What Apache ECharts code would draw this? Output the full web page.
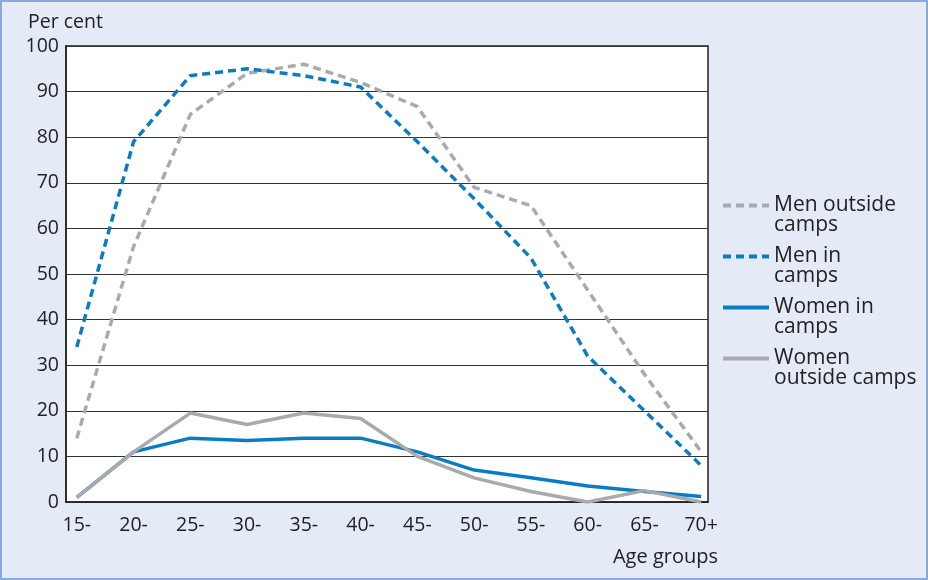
<!DOCTYPE html>
<html><head><meta charset="utf-8">
<script src="https://cdn.jsdelivr.net/npm/echarts@6/dist/echarts.min.js"></script>
<style>
html,body{margin:0;padding:0;background:#fff;}
#c{width:924px;height:576px;margin:0;border:2px solid #88aadb;background:#e4eaf6;}
</style></head><body>
<div id="c"></div>
<script>
var categories = ['15-','20-','25-','30-','35-','40-','45-','50-','55-','60-','65-','70+'];
var menOutside   = [14, 56, 85, 94, 96, 92, 86.7, 69, 65, 46.5, 28, 11];
var menIn        = [34, 79, 93.5, 95, 93.5, 91, 79, 66.5, 53.5, 32, 20, 8];
var womenIn      = [1, 11, 14, 13.5, 14, 14, 11, 7, 5.3, 3.5, 2.3, 1.2];
var womenOutside = [1, 11, 19.5, 17, 19.5, 18.3, 10, 5.3, 2.3, 0, 2.5, 0];
var yTicks = [0,10,20,30,40,50,60,70,80,90,100];

function pairs(arr){ return arr.map(function(v,i){ return [i, v]; }); }
var BLUE = '#0a7dc2', GREY = '#a9aaae';
var FONT = 'Open Sans';
var FS = 19.5;
var chart = echarts.init(document.getElementById('c'));
chart.setOption({
  animation:false,
  textStyle:{fontFamily:FONT},
  grid:{left:64,top:44,width:642,height:456,show:true,backgroundColor:'#fff',borderColor:'#222',borderWidth:1.5},
  title:{text:'Per cent',left:21,top:5,textStyle:{fontFamily:FONT,fontSize:FS,fontWeight:'normal',color:'#222'}},
  xAxis:{type:'value',min:-0.19,max:11.12,
    name:'Age groups',nameLocation:'end',nameGap:0,
    nameTextStyle:{fontFamily:FONT,fontSize:20,color:'#222',align:'right',verticalAlign:'top',padding:[45,-10,0,0]},
    axisLine:{show:true,lineStyle:{color:'#222',width:1.5}},
    axisTick:{show:false},splitLine:{show:false},
    axisLabel:{customValues:categories.map(function(c,i){return i;}),
      formatter:function(v){return categories[Math.round(v)];},
      fontFamily:FONT,fontSize:FS,color:'#222',margin:13}},
  yAxis:{type:'value',min:0,max:100,interval:10,
    axisLine:{show:true,onZero:false,lineStyle:{color:'#222',width:1.5}},axisTick:{show:false},
    splitLine:{lineStyle:{color:'#333',width:1}},
    axisLabel:{fontFamily:FONT,fontSize:FS,color:'#222',margin:7,
      formatter:function(v){return yTicks.indexOf(v)>=0?String(v):'';}}},
  legend:{orient:'vertical',left:719,top:173,padding:0,itemWidth:46,itemHeight:14,itemGap:-10,
    itemStyle:{opacity:0},
    lineStyle:{width:4},
    formatter:function(n){return '\n'+n;},
    textStyle:{fontFamily:FONT,fontSize:21,color:'#222',lineHeight:20},
    data:[{name:'Men outside\ncamps'},{name:'Men in\ncamps'},{name:'Women in\ncamps'},{name:'Women\noutside camps'}]},
  series:[
    {name:'Men outside\ncamps',type:'line',symbol:'none',data:pairs(menOutside),lineStyle:{color:GREY,width:3.5,type:[8,5]},itemStyle:{color:GREY},z:2},
    {name:'Men in\ncamps',type:'line',symbol:'none',data:pairs(menIn),lineStyle:{color:BLUE,width:3.5,type:[8,5]},itemStyle:{color:BLUE},z:3},
    {name:'Women in\ncamps',type:'line',symbol:'none',data:pairs(womenIn),lineStyle:{color:BLUE,width:3.5},itemStyle:{color:BLUE},z:3},
    {name:'Women\noutside camps',type:'line',symbol:'none',data:pairs(womenOutside),lineStyle:{color:GREY,width:3.5},itemStyle:{color:GREY},z:4}
  ]
});
</script></body></html>
